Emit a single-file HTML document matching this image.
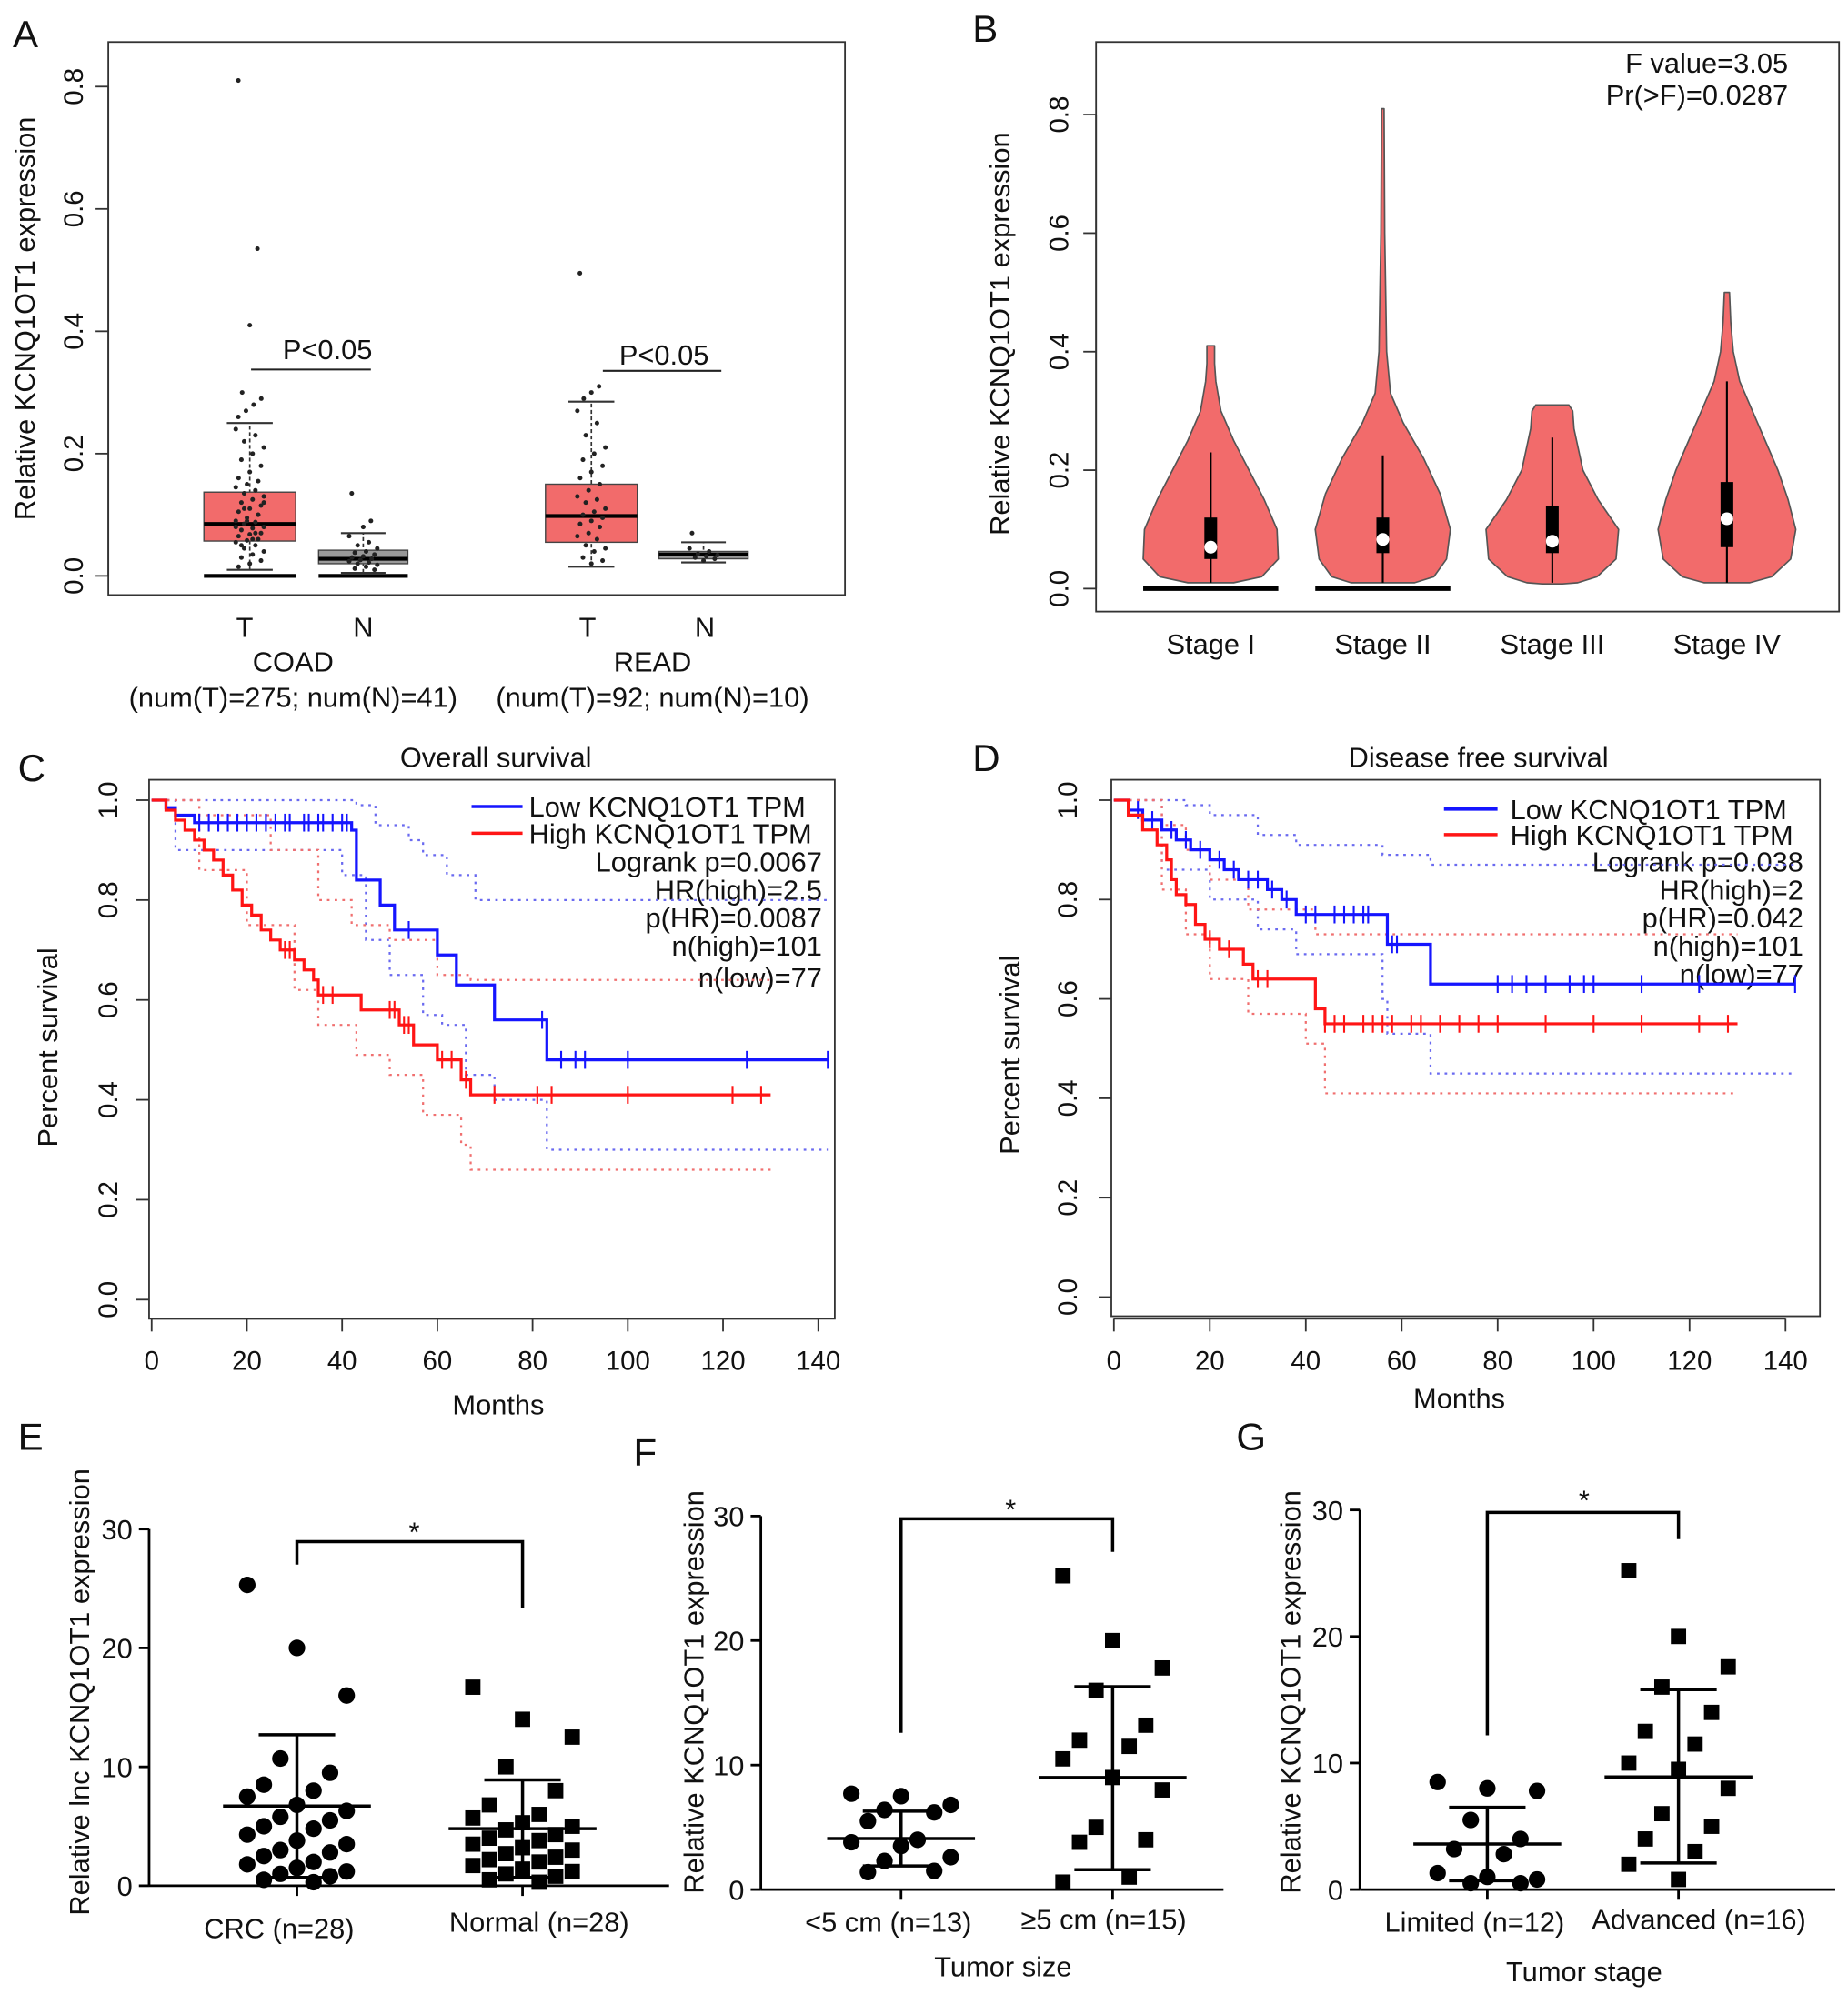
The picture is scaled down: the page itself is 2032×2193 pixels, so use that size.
<!DOCTYPE html>
<html><head><meta charset="utf-8"><style>
html,body{margin:0;padding:0;background:#fff}
svg{display:block}
text{font-family:"Liberation Sans",Arial,sans-serif;fill:#111}
</style></head><body>
<svg id="fig" width="2032" height="2193" viewBox="0 0 1450 1565" preserveAspectRatio="none" xmlns="http://www.w3.org/2000/svg">
<rect width="1450" height="1565" fill="#fff"/>
<g font-size="30">
<text x="10" y="37">A</text>
<text x="763" y="33">B</text>
<text x="14" y="613">C</text>
<text x="763" y="605">D</text>
<text x="14" y="1138">E</text>
<text x="497" y="1150">F</text>
<text x="970" y="1138">G</text>
</g>
<g>
<rect x="85" y="33" width="578" height="434" fill="none" stroke="#333" stroke-width="1.3"/>
<text transform="translate(27,250) rotate(-90)" text-anchor="middle" font-size="22">Relative KCNQ1OT1 expression</text>
<g font-size="22" text-anchor="middle">
<text x="192" y="500">T</text><text x="285" y="500">N</text>
<text x="461" y="500">T</text><text x="553" y="500">N</text>
<text x="230" y="527">COAD</text>
<text x="230" y="555">(num(T)=275; num(N)=41)</text>
<text x="512" y="527">READ</text>
<text x="512" y="555">(num(T)=92; num(N)=10)</text>
<text x="257" y="282">P&lt;0.05</text>
<text x="521" y="286">P&lt;0.05</text>
</g>
<line x1="197" y1="290" x2="291" y2="290" stroke="#222" stroke-width="1.5"/>
<line x1="473" y1="291" x2="566" y2="291" stroke="#222" stroke-width="1.5"/>
<g id="aAxis"></g><g id="aMarks"></g>
</g>
<g>
<rect x="860" y="33" width="583" height="447" fill="none" stroke="#333" stroke-width="1.3"/>
<text transform="translate(792,262) rotate(-90)" text-anchor="middle" font-size="22">Relative KCNQ1OT1 expression</text>
<text x="1403" y="57" text-anchor="end" font-size="22">F value=3.05</text>
<text x="1403" y="82" text-anchor="end" font-size="22">Pr(&gt;F)=0.0287</text>
<g id="bAxis"></g><g id="bMarks"></g>
</g>
<g>
<rect x="117" y="612" width="538" height="423" fill="none" stroke="#333" stroke-width="1.3"/>
<text x="389" y="602" text-anchor="middle" font-size="22">Overall survival</text>
<text x="391" y="1110" text-anchor="middle" font-size="22">Months</text>
<text transform="translate(45,822) rotate(-90)" text-anchor="middle" font-size="22">Percent survival</text>
<line x1="370" y1="633" x2="410" y2="633" stroke="#1515ff" stroke-width="2.5"/>
<line x1="370" y1="654" x2="410" y2="654" stroke="#ff1515" stroke-width="2.5"/>
<g font-size="22">
<text x="415" y="641">Low KCNQ1OT1 TPM</text>
<text x="415" y="662">High KCNQ1OT1 TPM</text>
<g text-anchor="end"><text x="645" y="684">Logrank p=0.0067</text><text x="645" y="706">HR(high)=2.5</text><text x="645" y="728">p(HR)=0.0087</text><text x="645" y="750">n(high)=101</text><text x="645" y="775">n(low)=77</text></g>
</g>
<g id="cAxis"></g><g id="cMarks"></g>
</g>
<g>
<rect x="872" y="612" width="556" height="421" fill="none" stroke="#333" stroke-width="1.3"/>
<text x="1160" y="602" text-anchor="middle" font-size="22">Disease free survival</text>
<text x="1145" y="1105" text-anchor="middle" font-size="22">Months</text>
<text transform="translate(800,828) rotate(-90)" text-anchor="middle" font-size="22">Percent survival</text>
<line x1="1133" y1="635" x2="1175" y2="635" stroke="#1515ff" stroke-width="2.5"/>
<line x1="1133" y1="655" x2="1175" y2="655" stroke="#ff1515" stroke-width="2.5"/>
<g font-size="22">
<text x="1185" y="643">Low KCNQ1OT1 TPM</text>
<text x="1185" y="663">High KCNQ1OT1 TPM</text>
<g text-anchor="end"><text x="1415" y="684">Logrank p=0.038</text><text x="1415" y="706">HR(high)=2</text><text x="1415" y="728">p(HR)=0.042</text><text x="1415" y="750">n(high)=101</text><text x="1415" y="772">n(low)=77</text></g>
</g>
<g id="dAxis"></g><g id="dMarks"></g>
</g>
<g>
<text transform="translate(70,1328) rotate(-90)" text-anchor="middle" font-size="22">Relative lnc KCNQ1OT1 expression</text>
<text x="219" y="1521" text-anchor="middle" font-size="22">CRC (n=28)</text>
<text x="423" y="1516" text-anchor="middle" font-size="22">Normal (n=28)</text>
<polyline points="233,1228 233,1210 410,1210 410,1262" fill="none" stroke="#000" stroke-width="2.5"/>
<text x="325" y="1210" text-anchor="middle" font-size="22">*</text>
<g id="eAxis"></g><g id="eMarks"></g>
</g>
<g>
<text transform="translate(552,1328) rotate(-90)" text-anchor="middle" font-size="22">Relative KCNQ1OT1 expression</text>
<text x="697" y="1516" text-anchor="middle" font-size="22">&lt;5 cm (n=13)</text>
<text x="866" y="1514" text-anchor="middle" font-size="22">≥5 cm (n=15)</text>
<text x="787" y="1551" text-anchor="middle" font-size="22">Tumor size</text>
<polyline points="707,1360 707,1192 873,1192 873,1218" fill="none" stroke="#000" stroke-width="2.5"/>
<text x="793" y="1192" text-anchor="middle" font-size="22">*</text>
<g id="fAxis"></g><g id="fMarks"></g>
</g>
<g>
<text transform="translate(1020,1328) rotate(-90)" text-anchor="middle" font-size="22">Relative KCNQ1OT1 expression</text>
<text x="1157" y="1516" text-anchor="middle" font-size="22">Limited (n=12)</text>
<text x="1333" y="1514" text-anchor="middle" font-size="22">Advanced (n=16)</text>
<text x="1243" y="1555" text-anchor="middle" font-size="22">Tumor stage</text>
<polyline points="1167,1362 1167,1187 1317,1187 1317,1208" fill="none" stroke="#000" stroke-width="2.5"/>
<text x="1243" y="1185" text-anchor="middle" font-size="22">*</text>
<g id="gAxis"></g><g id="gMarks"></g>
</g>
</svg>
<script>
const aGroups = ["COAD-T","COAD-N","READ-T","READ-N"];
const aStats = [[0.01,0.057,0.085,0.137,0.25],[0.005,0.02,0.028,0.042,0.07],[0.015,0.055,0.098,0.15,0.285],[0.022,0.028,0.035,0.04,0.055]];
const aOutliers = [[0.81,0.535,0.41,0.3,0.29,0.28,0.27,0.26],[0.135,0.09,0.08],[0.495,0.31,0.3,0.29],[0.07]];
const aPointsCoadT = [0.24,0.23,0.22,0.21,0.2,0.19,0.18,0.17,0.16,0.155,0.15,0.145,0.14,0.135,0.13,0.125,0.12,0.115,0.11,0.105,0.1,0.095,0.09,0.088,0.085,0.08,0.078,0.075,0.07,0.068,0.065,0.06,0.058,0.055,0.05,0.045,0.04,0.035,0.03,0.025,0.02,0.015,0.1,0.09,0.08,0.07,0.11,0.12,0.06,0.05];
const aPointsCoadN = [0.065,0.055,0.05,0.045,0.04,0.038,0.035,0.032,0.03,0.028,0.026,0.024,0.022,0.02,0.018,0.015,0.012,0.01];
const aPointsReadT = [0.27,0.25,0.23,0.21,0.2,0.19,0.18,0.17,0.16,0.15,0.14,0.13,0.125,0.12,0.11,0.105,0.1,0.095,0.09,0.085,0.08,0.07,0.065,0.06,0.05,0.045,0.04,0.03,0.025,0.02];
const aPointsReadN = [0.045,0.04,0.036,0.034,0.032,0.03,0.028,0.025];
const aTicks = [0,0.2,0.4,0.6,0.8];
const bStages = ["Stage I","Stage II","Stage III","Stage IV"];
const bViolinY = [[0.41,0.38,0.35,0.3,0.25,0.2,0.15,0.1,0.05,0.02,0.01],[0.81,0.6,0.4,0.33,0.28,0.22,0.16,0.1,0.05,0.02,0.01],[0.31,0.3,0.27,0.25,0.2,0.15,0.1,0.05,0.02,0.01,0.008],[0.5,0.45,0.4,0.35,0.3,0.25,0.2,0.15,0.1,0.05,0.02,0.01]];
const bViolinW = [[3,3,4,8,18,30,42,52,53,40,18],[1,1.5,3,6,16,32,45,53,50,40,25],[13,16,17,19,24,36,52,50,35,20,8],[2,3,5,10,20,30,40,48,54,50,35,18]];
const bBox = [[0.01,0.05,0.07,0.12,0.23],[0.01,0.06,0.083,0.12,0.225],[0.01,0.06,0.08,0.14,0.255],[0.01,0.07,0.118,0.18,0.35]];
const bTicks = [0,0.2,0.4,0.6,0.8];
const cLow = [[0,1],[3,0.985],[5,0.97],[9,0.955],[30,0.955],[42,0.94],[43,0.84],[48,0.79],[51,0.74],[60,0.69],[64,0.63],[72,0.56],[83,0.48],[142,0.48]];
const cHigh = [[0,1],[3,0.98],[5,0.96],[7,0.94],[9,0.92],[11,0.9],[13,0.88],[15,0.85],[17,0.82],[19,0.79],[21,0.77],[23,0.74],[25,0.72],[27,0.7],[30,0.68],[32,0.66],[34,0.64],[35,0.61],[38,0.61],[44,0.58],[52,0.55],[55,0.51],[60,0.48],[65,0.44],[67,0.41],[130,0.41]];
const cLowCens = [10,12,14,16,18,20,22,24,26,28,29,32,33,35,36,38,40,41,54,82,86,89,91,100,125,142];
const cHighCens = [28,29,36,38,50,51,53,54,61,63,66,72,81,84,100,122,128];
const cLowUp = [[0,1],[40,1],[43,0.99],[47,0.95],[54,0.92],[57,0.89],[62,0.85],[68,0.8],[142,0.8]];
const cLowLo = [[0,1],[5,0.9],[40,0.85],[45,0.72],[50,0.65],[57,0.57],[61,0.55],[66,0.45],[72,0.4],[83,0.3],[142,0.3]];
const cHighUp = [[0,1],[10,0.97],[25,0.9],[35,0.8],[42,0.75],[50,0.72],[60,0.65],[67,0.64],[130,0.64]];
const cHighLo = [[0,1],[10,0.86],[20,0.75],[30,0.62],[35,0.55],[43,0.49],[50,0.45],[57,0.37],[65,0.31],[67,0.26],[130,0.26]];
const dLow = [[0,1],[3,0.98],[6,0.96],[10,0.94],[13,0.92],[16,0.9],[20,0.88],[23,0.86],[26,0.84],[32,0.82],[35,0.8],[38,0.77],[56,0.77],[57,0.71],[65,0.71],[66,0.63],[142,0.63]];
const dHigh = [[0,1],[3,0.97],[6,0.94],[9,0.91],[11,0.88],[12,0.84],[13,0.81],[15,0.79],[17,0.75],[19,0.72],[22,0.7],[27,0.67],[29,0.64],[41,0.64],[42,0.58],[44,0.55],[130,0.55]];
const dLowCens = [5,8,12,15,18,22,25,28,30,33,36,40,42,46,48,50,52,53,58,59,80,83,86,90,95,98,100,110,122,142];
const dHighCens = [20,24,30,32,44,46,48,52,54,56,58,62,64,68,72,76,80,90,100,110,122,128];
const dLowUp = [[0,1],[15,0.99],[20,0.97],[30,0.93],[38,0.91],[56,0.89],[66,0.87],[142,0.87]];
const dLowLo = [[0,1],[10,0.86],[20,0.8],[30,0.74],[38,0.69],[56,0.6],[57,0.53],[66,0.45],[142,0.45]];
const dHighUp = [[0,1],[10,0.95],[15,0.9],[20,0.84],[28,0.78],[42,0.73],[130,0.73]];
const dHighLo = [[0,1],[10,0.82],[15,0.73],[20,0.64],[28,0.57],[40,0.51],[44,0.41],[130,0.41]];
const kmXTicks = [0,20,40,60,80,100,120,140];
const kmYTicks = [0,0.2,0.4,0.6,0.8,1.0];
const eCRC = [25.3,20,16,10.7,9.5,8.5,8,7.5,6.8,6.3,5.8,5.5,5,4.8,4.3,3.8,3.5,3,2.8,2.5,2,1.8,1.5,1.2,1,0.8,0.5,0.3];
const eNormal = [16.7,14,12.5,10,8,6.8,6,5.7,5.3,5,4.7,4.3,4,3.8,3.5,3.2,3,2.7,2.4,2.2,2,1.7,1.4,1.2,1,0.8,0.5,0.3];
const eSummary = [[6.7,12.7,0.7],[4.8,8.9,0.7]];
const fSmall = [7.7,7.5,6.8,6.4,6.2,5.5,4,3.8,3.5,2.6,2.3,1.5,1.4];
const fLarge = [25.2,20,17.8,16,13.2,12,11.5,10.5,9,8,5,4,3.8,1,0.6];
const fSummary = [[4.1,6.3,1.9],[9.0,16.3,1.6]];
const gLimited = [8.5,8,7.8,5.5,4,3.2,2.8,1.3,1,0.8,0.5,0.5];
const gAdvanced = [25.2,20,17.6,16,14,12.5,11.5,10,9.5,8,6,5,4,3,2,0.8];
const gSummary = [[3.6,6.5,0.7],[8.9,15.8,2.1]];
const dotTicks = [0,10,20,30];

const NS="http://www.w3.org/2000/svg";
function mk(tag,parent,attrs){const e=document.createElementNS(NS,tag);for(const k in attrs)e.setAttribute(k,attrs[k]);parent.appendChild(e);return e;}
const G=id=>document.getElementById(id);

(function(){
 const y=v=>452-v*480;
 const ax=G('aAxis'),m=G('aMarks');
 mk('line',ax,{x1:85,y1:y(0),x2:85,y2:y(0.8),stroke:'#333','stroke-width':1.3});
 aTicks.forEach(t=>{
  const l=mk('line',ax,{x1:75,y1:y(t),x2:85,y2:y(t),stroke:'#333','stroke-width':1.3});
  
  
  const tx=mk('text',ax,{transform:`translate(65,${y(t)}) rotate(-90)`,'text-anchor':'middle','font-size':21});
  tx.textContent=t.toFixed(1);
  
  
 });
 const cx=[196,285,464,552], hw=[36,35,36,35];
 const fills=['#f26b6b','#999','#f26b6b','#999'];
 const pts=[aPointsCoadT,aPointsCoadN,aPointsReadT,aPointsReadN];
 [0,1].forEach(i=>{const z=mk('line',m,{x1:cx[i]-hw[i],y1:y(0),x2:cx[i]+hw[i],y2:y(0),stroke:'#000','stroke-width':3});
  
  });
 aStats.forEach((s,i)=>{
  const w=mk('line',m,{x1:cx[i],y1:y(s[0]),x2:cx[i],y2:y(s[4]),stroke:'#333','stroke-width':1.2,'stroke-dasharray':'3,2'});
  
  
  [0,4].forEach(k=>{const c=mk('line',m,{x1:cx[i]-hw[i]/2,y1:y(s[k]),x2:cx[i]+hw[i]/2,y2:y(s[k]),stroke:'#333','stroke-width':1.5});
   
   });
  const b=mk('rect',m,{x:cx[i]-hw[i],y:y(s[3]),width:2*hw[i],height:y(s[1])-y(s[3]),fill:fills[i],stroke:'#444','stroke-width':1});
  
  
  const md=mk('line',m,{x1:cx[i]-hw[i],y1:y(s[2]),x2:cx[i]+hw[i],y2:y(s[2]),stroke:'#000','stroke-width':3});
  
  
  pts[i].forEach((v,j)=>{const d=mk('circle',m,{cx:cx[i]+((j*7)%11-5)*2.2,cy:y(v),r:1.8,fill:'#222'});
   
   });
  aOutliers[i].forEach((v,j)=>{const d=mk('circle',m,{cx:cx[i]+((j*5)%7-3)*3,cy:y(v),r:1.8,fill:'#222'});
   
   });
 });
})();

(function(){
 const y=v=>462-v*465;
 const ax=G('bAxis'),m=G('bMarks');
 mk('line',ax,{x1:860,y1:y(0),x2:860,y2:y(0.8),stroke:'#333','stroke-width':1.3});
 bTicks.forEach(t=>{
  const l=mk('line',ax,{x1:850,y1:y(t),x2:860,y2:y(t),stroke:'#333','stroke-width':1.3});
  
  
  const tx=mk('text',ax,{transform:`translate(838,${y(t)}) rotate(-90)`,'text-anchor':'middle','font-size':21});
  tx.textContent=t.toFixed(1);
  
  
 });
 const cx=[950,1085,1218,1355];
 [0,1].forEach(i=>{const z=mk('line',m,{x1:cx[i]-53,y1:y(0),x2:cx[i]+53,y2:y(0),stroke:'#000','stroke-width':3.5});
  
  });
 bStages.forEach((s,i)=>{
  const ys=bViolinY[i],ws=bViolinW[i];
  let d='M'+(cx[i]+ws[0])+','+y(ys[0]);
  for(let k=1;k<ys.length;k++)d+=' L'+(cx[i]+ws[k])+','+y(ys[k]);
  for(let k=ys.length-1;k>=0;k--)d+=' L'+(cx[i]-ws[k])+','+y(ys[k]);
  d+='Z';
  const p=mk('path',m,{d:d,fill:'#f26b6b',stroke:'#555','stroke-width':1.2,'stroke-linejoin':'round'});
  
  
  const b=bBox[i];
  const w=mk('line',m,{x1:cx[i],y1:y(b[0]),x2:cx[i],y2:y(b[4]),stroke:'#000','stroke-width':1.5});
  
  
  const r=mk('rect',m,{x:cx[i]-5,y:y(b[3]),width:10,height:y(b[1])-y(b[3]),fill:'#000'});
  
  
  const c=mk('circle',m,{cx:cx[i],cy:y(b[2]),r:5,fill:'#fff'});
  
  
  const t=mk('text',m,{x:cx[i],y:513,'text-anchor':'middle','font-size':22});
  t.textContent=s;
  
  
 });
})();

function km(axId,mId,x0,xs,y0,ys,yl,tickX,low,high,lowC,highC,bands,tag){
 const X=t=>x0+t*xs, Y=v=>y0-v*ys;
 const ax=G(axId),m=G(mId);
 mk('line',ax,{x1:X(0),y1:1035,x2:X(140),y2:1035,stroke:'#333','stroke-width':1.3});
 kmXTicks.forEach(t=>{
  const l=mk('line',ax,{x1:X(t),y1:1035,x2:X(t),y2:1045,stroke:'#333','stroke-width':1.3});
  
  
  const tx=mk('text',ax,{x:X(t),y:1075,'text-anchor':'middle','font-size':21});
  tx.textContent=t;
  
  
 });
 kmYTicks.forEach(t=>{
  const l=mk('line',ax,{x1:tickX-10,y1:Y(t),x2:tickX,y2:Y(t),stroke:'#333','stroke-width':1.3});
  
  
  const tx=mk('text',ax,{transform:`translate(${yl},${Y(t)}) rotate(-90)`,'text-anchor':'middle','font-size':21});
  tx.textContent=t.toFixed(1);
  
  
 });
 const step=arr=>{let d='M'+X(arr[0][0])+','+Y(arr[0][1]);for(let k=1;k<arr.length;k++){d+=' H'+X(arr[k][0])+' V'+Y(arr[k][1]);}return d;};
 bands.forEach(([arr,col])=>{
  const p=mk('path',m,{d:step(arr),fill:'none',stroke:col,'stroke-width':1.6,'stroke-dasharray':'2,4'});
  
  
 });
 const sv=(arr,t)=>{let v=arr[0][1];for(const p of arr){if(p[0]<=t)v=p[1];}return v;};
 [[low,lowC,'#1515ff','low'],[high,highC,'#ff1515','high']].forEach(([arr,cens,col,n])=>{
  const p=mk('path',m,{d:step(arr),fill:'none',stroke:col,'stroke-width':2.3});
  
  
  cens.forEach(t=>{const c=mk('line',m,{x1:X(t),y1:Y(sv(arr,t))-7,x2:X(t),y2:Y(sv(arr,t))+7,stroke:col,'stroke-width':1.5});
   
   });
 });
}
km('cAxis','cMarks',119,3.736,1020,392,92,117,cLow,cHigh,cLowCens,cHighCens,[[cLowUp,'#6a6af0'],[cLowLo,'#6a6af0'],[cHighUp,'#f07070'],[cHighLo,'#f07070']],'os');
km('dAxis','dMarks',874,3.764,1018,390,845,872,dLow,dHigh,dLowCens,dHighCens,[[dLowUp,'#6a6af0'],[dLowLo,'#6a6af0'],[dHighUp,'#f07070'],[dHighLo,'#f07070']],'dfs');

function dots(axId,mId,axX,y0,per,xEnd,cx,groups,summ,shapes,tag){
 const Y=v=>y0-v*per;
 const ax=G(axId),m=G(mId);
 mk('line',ax,{x1:axX,y1:Y(0),x2:axX,y2:Y(30),stroke:'#000','stroke-width':2});
 mk('line',ax,{x1:axX,y1:Y(0),x2:xEnd,y2:Y(0),stroke:'#000','stroke-width':2});
 dotTicks.forEach(t=>{
  const l=mk('line',ax,{x1:axX-8,y1:Y(t),x2:axX,y2:Y(t),stroke:'#000','stroke-width':2});
  
  
  const tx=mk('text',ax,{x:axX-13,y:Y(t)+8,'text-anchor':'end','font-size':22});
  tx.textContent=t;
  
  
 });
 cx.forEach(c=>{const l=mk('line',ax,{x1:c,y1:Y(0),x2:c,y2:Y(0)+8,stroke:'#000','stroke-width':2});
  
  });
 groups.forEach((vals,i)=>{
  vals.forEach((v,j)=>{
   const off=((j*3)%7-3)*13;
   let e;
   if(shapes[i]==='c') e=mk('circle',m,{cx:cx[i]+off,cy:Y(v),r:6.5,fill:'#000'});
   else e=mk('rect',m,{x:cx[i]+off-6,y:Y(v)-6,width:12,height:12,fill:'#000'});
   
   
  });
  const s=summ[i];
  const mn=mk('line',m,{x1:cx[i]-58,y1:Y(s[0]),x2:cx[i]+58,y2:Y(s[0]),stroke:'#000','stroke-width':2.5});
  
  
  const sd=mk('line',m,{x1:cx[i],y1:Y(s[1]),x2:cx[i],y2:Y(s[2]),stroke:'#000','stroke-width':2.5});
  
  
  [1,2].forEach(k=>{const c=mk('line',m,{x1:cx[i]-30,y1:Y(s[k]),x2:cx[i]+30,y2:Y(s[k]),stroke:'#000','stroke-width':2.5});
   
   });
 });
}
dots('eAxis','eMarks',117,1480,9.33,525,[233,410],[eCRC,eNormal],eSummary,['c','s'],'panel-e');
dots('fAxis','fMarks',597,1483,9.77,960,[707,873],[fSmall,fLarge],fSummary,['c','s'],'panel-f');
dots('gAxis','gMarks',1067,1483,9.93,1440,[1167,1317],[gLimited,gAdvanced],gSummary,['c','s'],'panel-g');
</script>
</body></html>
